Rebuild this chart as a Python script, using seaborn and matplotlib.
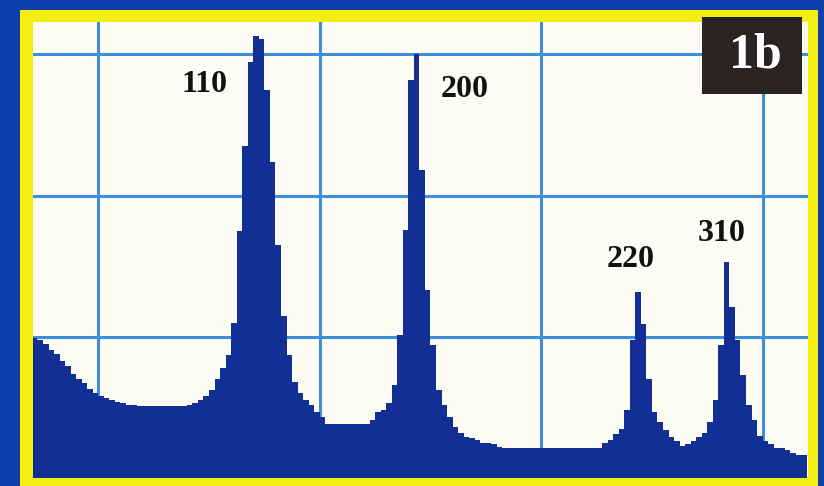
import numpy as np
import pandas as pd
import matplotlib
matplotlib.use("Agg")
import matplotlib.pyplot as plt
from matplotlib.patches import Rectangle
import seaborn as sns

# Diffraction scan: 2-theta start, step, and counts per step
scan_start = 14.0
scan_step = 0.5
counts = [
    99, 98, 95, 91, 88, 83, 79, 74, 70, 67, 63, 60, 58, 57, 55, 54, 53, 52, 52, 51,
    51, 51, 51, 51, 51, 51, 51, 51,
    52, 53, 55, 58, 62, 70, 78, 87, 110,
    175, 235, 295, 313, 311, 275, 224, 165, 115, 87, 68, 60, 55, 52, 47, 43, 38,
    38, 38, 38, 38, 38, 38, 38,
    41, 47, 48, 53, 66, 101, 176, 282, 300, 218, 133, 94, 62, 52, 43, 36, 32, 29,
    28, 27, 25, 25, 24, 22,
    21, 21, 21, 21, 21, 21, 21, 21, 21, 21, 21, 21, 21, 21, 21, 21, 21, 21,
    25, 27, 31, 35, 48, 98, 132, 109, 70, 47, 40, 34, 29, 26, 23, 24, 26, 29, 32,
    40, 55, 94, 153, 121, 98, 73, 52, 41, 30, 26, 24, 21, 21, 20, 18, 16, 16,
]

# Reflection labels and where they sit (2-theta, counts)
peak_labels = ["110", "200", "220", "310"]
label_x = [29.6, 53.1, 68.1, 76.3]
label_y = [279, 275, 155, 173]

panel_tag = "1b"

n_steps = len(counts)
scan_end = scan_start + scan_step * n_steps
centers = scan_start + scan_step * (np.arange(n_steps) + 0.5)
scan = pd.DataFrame({"two_theta": centers, "counts": counts})

border_blue = "#0e3fae"
frame_yellow = "#f4ee12"
paper = "#fdfcf4"
grid_blue = "#3d8fdc"
fill_blue = "#112f94"

W, H = 824, 486
fig = plt.figure(figsize=(W / 100, H / 100), dpi=100, facecolor=border_blue)

# yellow frame around the plot panel
fig.patches.append(Rectangle((20 / W, 0), (818 - 20) / W, (486 - 10) / H,
                             transform=fig.transFigure, facecolor=frame_yellow,
                             edgecolor="none", zorder=-5))

ax = fig.add_axes([33 / W, (H - 478) / H, (808 - 33) / W, (478 - 22) / H])
ax.set_zorder(1)
ax.set_facecolor(paper)

sns.histplot(data=scan, x="two_theta", weights="counts",
             binwidth=scan_step, binrange=(scan_start, scan_end),
             element="step", fill=True, color=fill_blue, alpha=1,
             linewidth=0, ax=ax, zorder=3)

ax.set_xlim(14.1, 84.1)
ax.set_ylim(0, 323)
ax.set_xticks([20, 40, 60, 80])
ax.set_yticks([100, 200, 300])
ax.grid(True, color=grid_blue, linewidth=2.2, zorder=1)
ax.set_axisbelow(True)
ax.tick_params(length=0, labelbottom=False, labelleft=False)
ax.set_xlabel("")
ax.set_ylabel("")
for s in ax.spines.values():
    s.set_visible(False)

for lab, lx, ly in zip(peak_labels, label_x, label_y):
    ax.text(lx, ly, lab, ha="center", va="center", fontsize=23,
            fontweight="bold", family="Liberation Serif", color="#111111",
            zorder=5)

# panel tag box, drawn above the axes
tag_ax = fig.add_axes([702 / W, (H - 94) / H, (802 - 702) / W, (94 - 17) / H])
tag_ax.set_zorder(5)
tag_ax.set_facecolor("#2b2222")
tag_ax.set_xticks([])
tag_ax.set_yticks([])
for s in tag_ax.spines.values():
    s.set_visible(False)
tag_ax.text(0.53, 0.5, panel_tag, ha="center", va="center",
            transform=tag_ax.transAxes, fontsize=36, fontweight="bold",
            family="Liberation Serif", color="white")

fig.savefig("out.png", dpi=100, facecolor=border_blue)
